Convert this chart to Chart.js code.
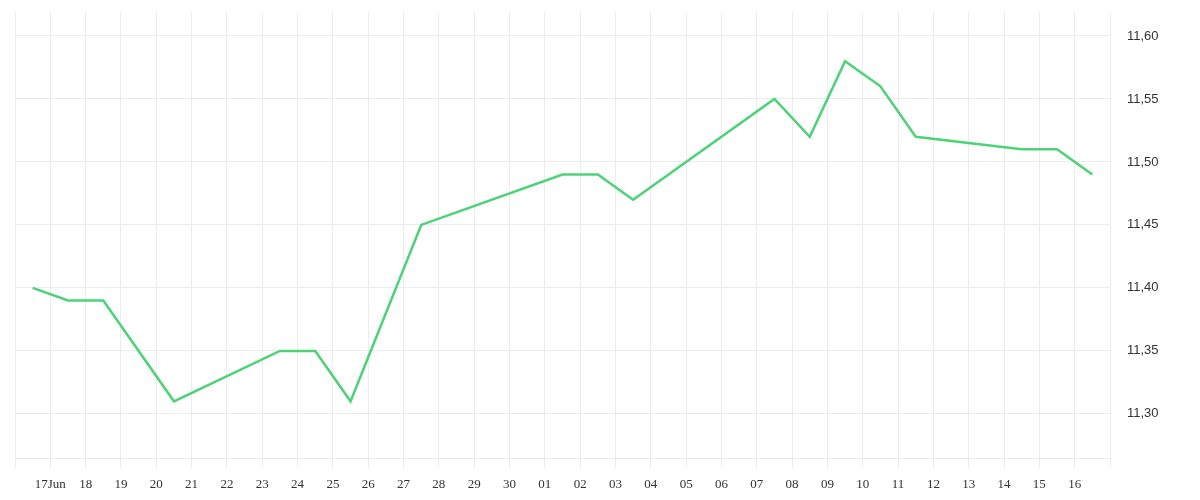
<!DOCTYPE html>
<html>
<head>
<meta charset="utf-8">
<script src="https://cdn.jsdelivr.net/npm/chart.js@4/dist/chart.umd.min.js"></script>
<style>
    html, body { margin: 0; padding: 0; background: #fff; }
    #chart-container { width: 1200px; height: 500px; }
</style>
</head>
<body>
<div id="chart-container">
    <canvas id="pricechart"></canvas>
</div>
<script>
// first day on the axis (left edge), days are counted from here
const startDay = '2023-06-16';

// trading days and closing values
const dates = [
    '2023-06-16', '2023-06-17', '2023-06-18', '2023-06-20', '2023-06-23',
    '2023-06-24', '2023-06-25', '2023-06-27', '2023-07-01', '2023-07-02',
    '2023-07-03', '2023-07-07', '2023-07-08', '2023-07-09', '2023-07-10',
    '2023-07-11', '2023-07-14', '2023-07-15', '2023-07-16'
];
const values = [
    11.40, 11.39, 11.39, 11.31, 11.35,
    11.35, 11.31, 11.45, 11.49, 11.49,
    11.47, 11.55, 11.52, 11.58, 11.56,
    11.52, 11.51, 11.51, 11.49
];

// one label per day tick, 17 Jun .. 16 Jul
const dayLabels = [
    '17Jun', '18', '19', '20', '21', '22', '23', '24', '25', '26',
    '27', '28', '29', '30', '01', '02', '03', '04', '05', '06',
    '07', '08', '09', '10', '11', '12', '13', '14', '15', '16'
];

const yTicks = [11.30, 11.35, 11.40, 11.45, 11.50, 11.55, 11.60];

const DAY = 24 * 3600 * 1000;

function dayIndex(d) {
    return Math.round((new Date(d + 'T00:00:00Z') - new Date(startDay + 'T00:00:00Z')) / DAY);
}

// points sit in the middle of their day
const points = dates.map((d, i) => ({ x: dayIndex(d) + 0.5, y: values[i] }));

const gridColor = '#ececec';

const ctx = document.getElementById('pricechart').getContext('2d');
const config = {
    type: 'line',
    data: {
        datasets: [{
            data: points,
            borderColor: 'rgb(76, 211, 120)',
            borderWidth: 2.5,
            pointRadius: 0,
            pointHoverRadius: 0,
            tension: 0,
            fill: false
        }]
    },
    options: {
        responsive: true,
        maintainAspectRatio: false,
        animation: false,
        layout: {
            padding: { left: 15, top: 12, right: 0, bottom: 0 }
        },
        plugins: {
            legend: { display: false },
            tooltip: { enabled: false }
        },
        scales: {
            x: {
                type: 'linear',
                min: 0,
                max: dayLabels.length + 1,
                grid: {
                    color: gridColor,
                    tickLength: 10
                },
                border: { color: gridColor },
                afterFit: (scale) => {
                    scale.height = 42;
                    scale.paddingLeft = 0;
                    scale.paddingRight = 0;
                },
                afterBuildTicks: (scale) => {
                    const t = [];
                    for (let i = 0; i <= dayLabels.length + 1; i++) t.push({ value: i });
                    scale.ticks = t;
                },
                ticks: {
                    autoSkip: false,
                    maxRotation: 0,
                    padding: 9,
                    color: '#333',
                    font: { family: 'Liberation Serif', size: 13 },
                    callback: (value) => dayLabels[value - 1] || ''
                }
            },
            y: {
                position: 'right',
                min: 11.265,
                max: 11.619,
                grid: {
                    color: gridColor,
                    drawTicks: false
                },
                border: { color: gridColor },
                afterFit: (scale) => {
                    scale.width = 90;
                    scale.paddingTop = 0;
                    scale.paddingBottom = 0;
                },
                afterBuildTicks: (scale) => {
                    scale.ticks = yTicks.map(v => ({ value: v }));
                },
                ticks: {
                    padding: 17,
                    color: '#333',
                    font: { family: 'Liberation Sans', size: 13 },
                    callback: (value) => value.toFixed(2).replace('.', ',')
                }
            }
        }
    }
};

const myChart = new Chart(ctx, config);
</script>
</body>
</html>
